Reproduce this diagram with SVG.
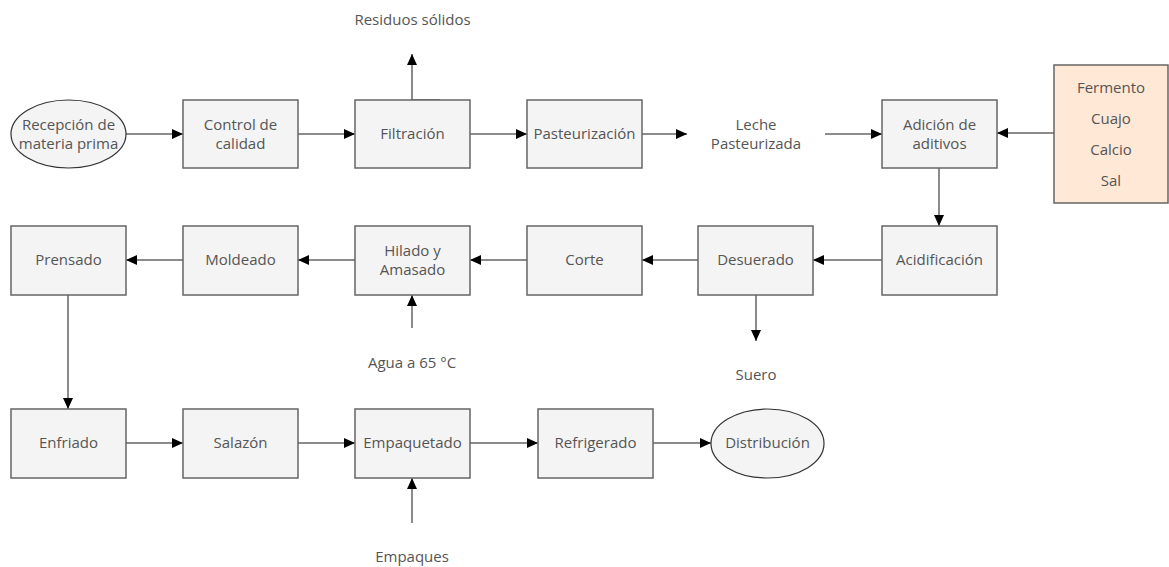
<svg xmlns="http://www.w3.org/2000/svg" width="1169" height="567" viewBox="0 0 1169 567">
<defs>
<marker id="arr" markerWidth="11" markerHeight="10" refX="11" refY="5" orient="auto" markerUnits="userSpaceOnUse">
<path d="M0,0 L11,5 L0,10 Z" fill="#000"/>
</marker>
<style>
.box{fill:#f4f4f4;stroke:#666;stroke-width:1.5}
.ell{fill:#f4f4f4;stroke:#333;stroke-width:1.2}
.add{fill:#ffe8d6;stroke:#666;stroke-width:1.5}
.t{font-family:"Open Sans","Noto Sans",sans-serif;font-size:15px;fill:#555;text-anchor:middle}
.c{fill:none;stroke:#666;stroke-width:1.5;marker-end:url(#arr)}
</style>
</defs>
<rect width="1169" height="567" fill="#fff"/>
<g id="connectors">
<path class="c" d="M126,134 H183"/>
<path class="c" d="M298,134 H355"/>
<path class="c" d="M440,100 H412 V54"/>
<path class="c" d="M470,134 H527"/>
<path class="c" d="M642,134 H687"/>
<path class="c" d="M825,134 H882"/>
<path class="c" d="M1054,133 H997"/>
<path class="c" d="M939,168 V226"/>
<path class="c" d="M882,260 H813"/>
<path class="c" d="M698,260 H642"/>
<path class="c" d="M756,295 V341"/>
<path class="c" d="M527,260 H470"/>
<path class="c" d="M412,328 V295"/>
<path class="c" d="M355,260 H298"/>
<path class="c" d="M183,260 H126"/>
<path class="c" d="M68,295 V409"/>
<path class="c" d="M126,443 H183"/>
<path class="c" d="M298,443 H355"/>
<path class="c" d="M412,523 V478"/>
<path class="c" d="M470,443 H538"/>
<path class="c" d="M653,443 H711"/>
</g>
<g id="recepcion"><ellipse class="ell" cx="68.5" cy="134" rx="57.5" ry="34"/><text class="t" x="68.5" y="130">Recepción de</text><text class="t" x="68.5" y="149">materia prima</text></g>
<g id="control"><rect class="box" x="183" y="100" width="115" height="68"/><text class="t" x="240.5" y="130">Control de</text><text class="t" x="240.5" y="149">calidad</text></g>
<g id="filtracion"><rect class="box" x="355" y="100" width="115" height="68"/><text class="t" x="412.5" y="139">Filtración</text></g>
<g id="residuos"><text class="t" x="412.5" y="25">Residuos sólidos</text></g>
<g id="pasteurizacion"><rect class="box" x="527" y="100" width="115" height="68"/><text class="t" x="584.5" y="139">Pasteurización</text></g>
<g id="leche"><text class="t" x="756" y="130">Leche</text><text class="t" x="756" y="149">Pasteurizada</text></g>
<g id="adicion"><rect class="box" x="882" y="100" width="115" height="68"/><text class="t" x="939.5" y="130">Adición de</text><text class="t" x="939.5" y="149">aditivos</text></g>
<g id="aditivos"><rect class="add" x="1054" y="65" width="114" height="138"/><text class="t" x="1111" y="93">Fermento</text><text class="t" x="1111" y="124">Cuajo</text><text class="t" x="1111" y="155">Calcio</text><text class="t" x="1111" y="186">Sal</text></g>
<g id="acidificacion"><rect class="box" x="882" y="226" width="115" height="69"/><text class="t" x="939.5" y="265">Acidificación</text></g>
<g id="desuerado"><rect class="box" x="698" y="226" width="115" height="69"/><text class="t" x="755.5" y="265">Desuerado</text></g>
<g id="suero"><text class="t" x="756" y="380">Suero</text></g>
<g id="corte"><rect class="box" x="527" y="226" width="115" height="69"/><text class="t" x="584.5" y="265">Corte</text></g>
<g id="hilado"><rect class="box" x="355" y="226" width="115" height="69"/><text class="t" x="412.5" y="256">Hilado y</text><text class="t" x="412.5" y="275">Amasado</text></g>
<g id="agua"><text class="t" x="412" y="368">Agua a 65 °C</text></g>
<g id="moldeado"><rect class="box" x="183" y="226" width="115" height="69"/><text class="t" x="240.5" y="265">Moldeado</text></g>
<g id="prensado"><rect class="box" x="11" y="226" width="115" height="69"/><text class="t" x="68.5" y="265">Prensado</text></g>
<g id="enfriado"><rect class="box" x="11" y="409" width="115" height="69"/><text class="t" x="68.5" y="448">Enfriado</text></g>
<g id="salazon"><rect class="box" x="183" y="409" width="115" height="69"/><text class="t" x="240.5" y="448">Salazón</text></g>
<g id="empaquetado"><rect class="box" x="355" y="409" width="115" height="69"/><text class="t" x="412.5" y="448">Empaquetado</text></g>
<g id="empaques"><text class="t" x="412" y="562">Empaques</text></g>
<g id="refrigerado"><rect class="box" x="538" y="409" width="115" height="69"/><text class="t" x="595.5" y="448">Refrigerado</text></g>
<g id="distribucion"><ellipse class="ell" cx="767.5" cy="443.5" rx="56.5" ry="34.5"/><text class="t" x="767.5" y="448">Distribución</text></g>
</svg>
